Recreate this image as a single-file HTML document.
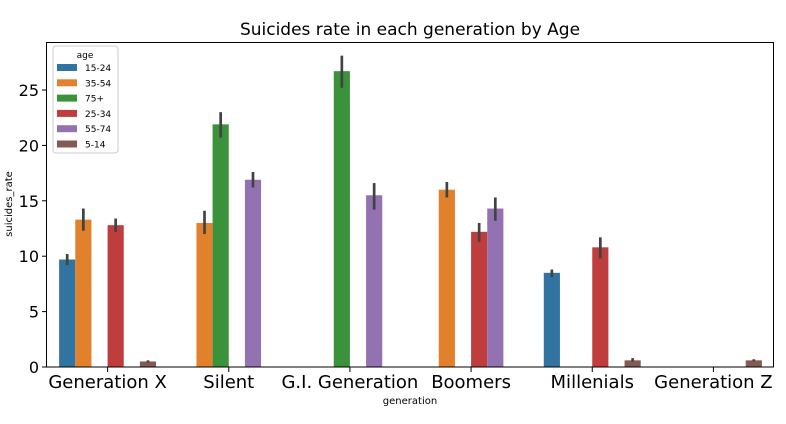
<!DOCTYPE html>
<html><head><meta charset="utf-8"><style>
body{margin:0;background:#fff;font-family:"DejaVu Sans","Liberation Sans",sans-serif}
</style></head><body>
<svg id="chart" width="786" height="420" xmlns="http://www.w3.org/2000/svg" font-family="DejaVu Sans, Liberation Sans, sans-serif">
<text x="410" y="35" font-size="17" text-anchor="middle">Suicides rate in each generation by Age</text>
<g id="plot"></g>
<rect x="46.5" y="42.5" width="727" height="324.5" fill="none" stroke="#000" stroke-width="1"/>
<text x="410" y="404" font-size="10" text-anchor="middle">generation</text>
<text transform="translate(12,204) rotate(-90)" font-size="10" text-anchor="middle">suicides_rate</text>
<g id="legend"></g>
</svg>
<script>
const categories=["Generation X","Silent","G.I. Generation","Boomers","Millenials","Generation Z"];
const hues=["15-24","35-54","75+","25-34","55-74","5-14"];
const colors=["#3274a1","#e1812c","#3a923a","#c03d3e","#9372b2","#845b53"];
const v1524=[9.7,null,null,null,8.5,null];
const v3554=[13.3,13.0,null,16.0,null,null];
const v75=[null,21.9,26.7,null,null,null];
const v2534=[12.8,null,null,12.2,10.8,null];
const v5574=[null,16.9,15.5,14.3,null,null];
const v514=[0.5,null,null,null,0.6,0.6];
const lo1524=[9.2,null,null,null,8.1,null];const hi1524=[10.2,null,null,null,8.8,null];
const lo3554=[12.3,12.0,null,15.3,null,null];const hi3554=[14.3,14.1,null,16.7,null,null];
const lo75=[null,20.7,25.2,null,null,null];const hi75=[null,23.0,28.1,null,null,null];
const lo2534=[12.2,null,null,11.3,9.8,null];const hi2534=[13.4,null,null,13.0,11.7,null];
const lo5574=[null,16.2,14.2,13.2,null,null];const hi5574=[null,17.6,16.6,15.3,null,null];
const lo514=[0.4,null,null,null,0.5,0.5];const hi514=[0.6,null,null,null,0.8,0.7];
const yTicks=[0,5,10,15,20,25];
const series=[v1524,v3554,v75,v2534,v5574,v514];
const los=[lo1524,lo3554,lo75,lo2534,lo5574,lo514];
const his=[hi1524,hi3554,hi75,hi2534,hi5574,hi514];
const X0=47,W=727,Y0=367,PX=11.08;
const band=W/categories.length,bw=band*0.8/hues.length;
const y=v=>Y0-v*PX;
const xc=i=>X0+band*(i+0.5);
const NS="http://www.w3.org/2000/svg";
const plot=document.getElementById('plot'),svg=document.getElementById('chart');
function mk(t,a,p){const e=document.createElementNS(NS,t);for(const k in a)e.setAttribute(k,a[k]);(p||plot).appendChild(e);return e;}
series.forEach((s,h)=>{s.forEach((v,i)=>{if(v==null)return;
 const cx=xc(i)+(h-2.5)*bw;
 const r=mk('rect',{x:cx-bw/2,y:y(v),width:bw,height:v*PX,fill:colors[h]});
 
 
 const l=mk('line',{x1:cx,x2:cx,y1:y(los[h][i]),y2:y(his[h][i]),stroke:'#424242','stroke-width':2.7});
 
 
});});
yTicks.forEach(t=>{
 const l=mk('line',{x1:X0-5,x2:X0,y1:y(t),y2:y(t),stroke:'#000'},svg);
 
 
 const tx=mk('text',{x:X0-8,y:y(t)+6,'font-size':16,'text-anchor':'end'},svg);tx.textContent=t;
 
 
});
categories.forEach((c,i)=>{
 const l=mk('line',{x1:xc(i),x2:xc(i),y1:Y0,y2:Y0+5,stroke:'#000'},svg);
 
 
 const tx=mk('text',{x:xc(i),y:Y0+21,'font-size':18,'text-anchor':'middle'},svg);tx.textContent=c;
 
 
});
const lg=document.getElementById('legend');
mk('rect',{x:53,y:46,width:65,height:107,rx:3,fill:'#fff','fill-opacity':0.8,stroke:'#ccc'},lg);
const lt=mk('text',{x:85,y:58,'font-size':9,'text-anchor':'middle'},lg);lt.textContent='age';
hues.forEach((h,k)=>{
 const yy=64+k*15.3;
 const r=mk('rect',{x:57,y:yy,width:20,height:7,fill:colors[k]},lg);
 
 
 const t=mk('text',{x:85,y:yy+7,'font-size':9},lg);t.textContent=h;
 
 
});
</script>
</body></html>
